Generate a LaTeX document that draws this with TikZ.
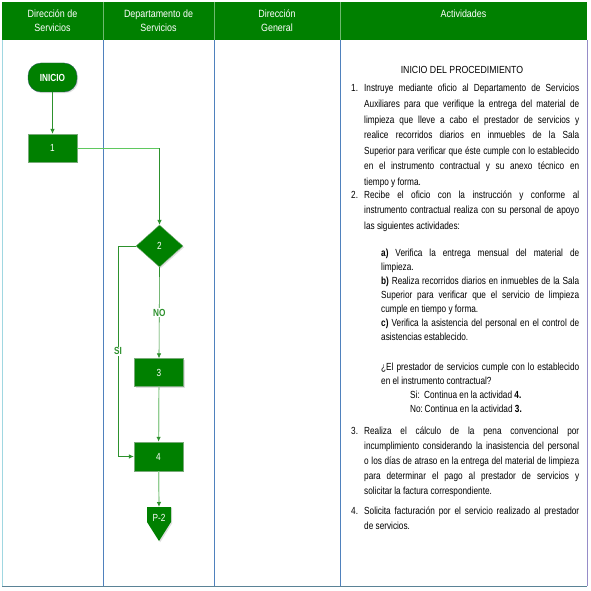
\documentclass[tikz,border=0pt]{standalone}
\usepackage{fontspec}
\setmainfont[FakeStretch=0.80]{Liberation Sans}
\newfontfamily\widefont[FakeStretch=0.85]{Liberation Sans}
\usetikzlibrary{shapes.geometric,arrows.meta,shadows}
\definecolor{hdr}{RGB}{0,128,0}
\definecolor{boxg}{RGB}{0,128,0}
\definecolor{colline}{RGB}{79,129,189}
\definecolor{hdrline}{RGB}{110,185,110}
\definecolor{lineg}{RGB}{45,145,45}
\definecolor{lightg}{RGB}{145,205,145}
\definecolor{brightg}{RGB}{95,200,95}
\definecolor{leftedge}{RGB}{160,215,225}
\definecolor{rightedge}{RGB}{150,140,200}
\definecolor{bottomedge}{RGB}{90,130,150}
\definecolor{boxedge}{RGB}{120,170,120}
\begin{document}
\begin{tikzpicture}[x=1pt,y=-1pt,
  nodefont/.style={font=\fontsize{10.3}{12}\selectfont, text=white},
  shad/.style={drop shadow={shadow xshift=1.2pt,shadow yshift=-1.2pt,opacity=0.25}},
  procbox/.style={rectangle, fill=boxg, draw=boxedge, minimum width=49, minimum height=28, inner sep=0, nodefont, shad},
  startbox/.style={rectangle, rounded corners=13pt, fill=boxg, draw={rgb,255:red,40;green,90;blue,90}, minimum width=49, minimum height=29, inner sep=0, nodefont, font=\fontsize{10.3}{12}\selectfont\bfseries, shad},
  decbox/.style={diamond, aspect=1.12, fill=boxg, draw=boxedge, minimum width=47, minimum height=42, inner sep=0, nodefont, shad},
  tip/.style={-{Latex[length=5pt,width=4.5pt,color=lineg]}},
  conn/.style={draw=lineg, line width=0.6pt},
  lightconn/.style={draw=lightg, line width=1.2pt},
  brightconn/.style={draw=brightg, line width=1pt},
  lbl/.style={fill=white, inner sep=1pt, text=lineg, font=\fontsize{10.3}{12}\selectfont\bfseries},
  hdrtxt/.style={anchor=north, align=center, text=white, inner sep=0, font=\widefont\fontsize{10.5}{14}\selectfont},
  txt/.style={anchor=base west, inner sep=0, text width=215pt, align=justify, font=\fontsize{10.3}{15.6}\selectfont},
  subtxt/.style={anchor=base west, inner sep=0, text width=198pt, align=justify, font=\fontsize{10.3}{14}\selectfont},
  plain/.style={anchor=base west, inner sep=0, font=\fontsize{10.3}{14}\selectfont}
]
\useasboundingbox (0,0) rectangle (590,591);
\fill[white] (0,0) rectangle (590,591);
% header
\fill[hdr] (2,2) rectangle (587,40);
\foreach \x in {103,214,340} {
  \draw[hdrline, line width=0.6pt] (\x,2) -- (\x,40);
  \draw[colline, line width=0.8pt] (\x,40) -- (\x,586);
}
\draw[leftedge, line width=1pt] (2,40) -- (2,586);
\draw[rightedge, line width=1pt] (587,40) -- (587,586);
\draw[bottomedge, line width=1pt] (2,586) -- (587,586);
\node[hdrtxt] (h1) at (52.5,9.5) {Dirección de\\Servicios};
\node[hdrtxt] (h2) at (158.5,9.5) {Departamento de\\Servicios};
\node[hdrtxt] (h3) at (277,9.5) {Dirección\\General};
\node[hdrtxt] (h4) at (463.5,9.5) {Actividades};

% flow
\node[startbox] (inicio) at (52.5,77.5) {INICIO};
\node[procbox] (b1) at (52.5,148) {1};
\node[decbox] (d2) at (159.5,246) {2};
\node[procbox] (b3) at (159,372.5) {3};
\node[procbox, minimum height=29] (b4) at (158.5,456.5) {4};
\coordinate (p2top) at (159,507);
\fill[boxg, shad] (p2top) ++(-12,0) -- ++(24,0) -- ++(0,15) -- ++(-12,19) -- ++(-12,-19) -- cycle;
\node[nodefont, inner sep=0, anchor=base] (p2) at (159,521) {P-2};

\draw[conn, tip] (inicio) -- (b1);
\coordinate (c1) at (d2.north |- b1.east);
\draw[brightconn] (b1.east) -- (c1);
\draw[conn, tip] (c1) -- (d2.north);
\draw[conn, tip] (d2.south) -- node[lbl, pos=0.5] {NO} (b3.north);
\coordinate (sic) at (118,246);
\draw[conn, tip] (d2.west) -- (sic) |- node[lbl, pos=0.25] {SI} (b4.west);
\draw[lightconn, tip] (b3) -- (b4);
\draw[lightconn, tip] (b4) -- (p2top);

% activities
\node[plain, anchor=base, font=\widefont\fontsize{10.3}{14}\selectfont] (t0) at (462,74) {INICIO DEL PROCEDIMIENTO};
\node[plain] (n1) at (351,92) {1.};
\node[txt] (t1) at (364,92) {Instruye mediante oficio al Departamento de Servicios\linebreak
Auxiliares para que verifique la entrega del material de\linebreak
limpieza que lleve a cabo el prestador de servicios y\linebreak
realice recorridos diarios en inmuebles de la Sala\linebreak
Superior para verificar que éste cumple con lo establecido\linebreak
en el instrumento contractual y su anexo técnico en\linebreak
tiempo y forma.};
\node[plain] (n2) at (351,198) {2.};
\node[txt] (t2) at (364,198) {Recibe el oficio con la instrucción y conforme al\linebreak
instrumento contractual realiza con su personal de apoyo\linebreak
las siguientes actividades:};
\node[subtxt] (t2a) at (381,256) {\textbf{a)} Verifica la entrega mensual del material de\linebreak
limpieza.\\
\textbf{b)} Realiza recorridos diarios en inmuebles de la Sala\linebreak
Superior para verificar que el servicio de limpieza\linebreak
cumple en tiempo y forma.\\
\textbf{c)} Verifica la asistencia del personal en el control de\linebreak
asistencias establecido.};
\node[subtxt] (tq) at (381,370) {¿El prestador de servicios cumple con lo establecido\linebreak
en el instrumento contractual?};
\node[plain] (tsi) at (410,398) {\makebox[14pt][l]{Si:}Continua en la actividad \textbf{4.}};
\node[plain] (tno) at (410,412) {\makebox[14.5pt][l]{No:}Continua en la actividad \textbf{3.}};
\node[plain] (n3) at (351,434) {3.};
\node[txt, font=\fontsize{10.3}{15}\selectfont] (t3) at (364,434) {Realiza el cálculo de la pena convencional por\linebreak
incumplimiento considerando la inasistencia del personal\linebreak
o los días de atraso en la entrega del material de limpieza\linebreak
para determinar el pago al prestador de servicios y\linebreak
solicitar la factura correspondiente.};
\node[plain] (n4) at (351,514) {4.};
\node[txt] (t4) at (364,514) {Solicita facturación por el servicio realizado al prestador\linebreak
de servicios.};
\end{tikzpicture}
\end{document}
